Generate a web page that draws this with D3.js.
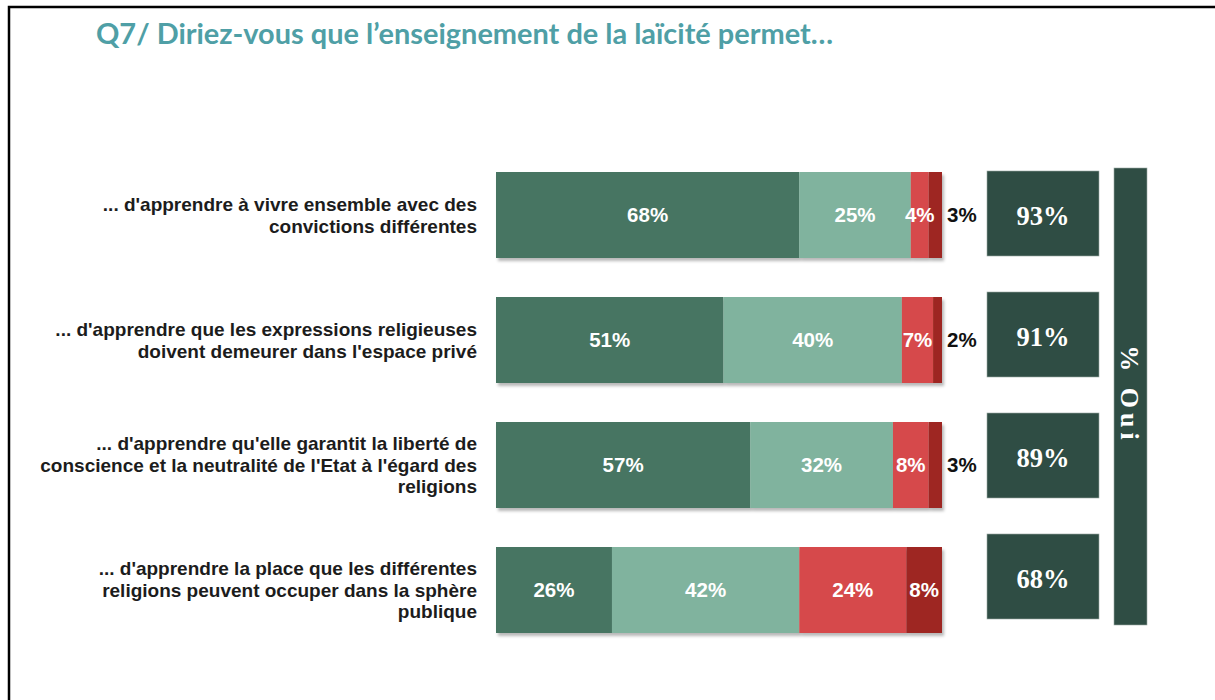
<!DOCTYPE html>
<html>
<head>
<meta charset="utf-8">
<script src="https://cdn.jsdelivr.net/npm/d3@7"></script>
<style>
  html, body { margin: 0; padding: 0; background: #ffffff; }
  svg { display: block; }
</style>
</head>
<body>
<svg id="chart" width="1215" height="700"></svg>
<script>
// ---------------- DATA ----------------
const titleText = "Q7/ Diriez-vous que l\u2019enseignement de la laïcité permet\u2026";
const categories = [
  ["... d'apprendre à vivre ensemble avec des", "convictions différentes"],
  ["... d'apprendre que les expressions religieuses", "doivent demeurer dans l'espace privé"],
  ["... d'apprendre qu'elle garantit la liberté de", "conscience et la neutralité de l'Etat à l'égard des", "religions"],
  ["... d'apprendre la place que les différentes", "religions peuvent occuper dans la sphère", "publique"]
];
const seriesKeys = ["ouiToutAFait", "ouiPlutot", "nonPlutotPas", "nonPasDuTout"];
const ouiToutAFait = [68, 51, 57, 26];
const ouiPlutot    = [25, 40, 32, 42];
const nonPlutotPas = [4, 7, 8, 24];
const nonPasDuTout = [3, 2, 3, 8];
const totalOui     = [93, 91, 89, 68];
const totalLabel   = "% Oui";

// ---------------- SETUP ----------------
const colors = {
  ouiToutAFait: "#467562",
  ouiPlutot: "#80b39e",
  nonPlutotPas: "#d6494c",
  nonPasDuTout: "#9e2621"
};
const boxColor = "#2f4d44";

const rows = categories.map((c, i) => ({
  idx: i,
  ouiToutAFait: ouiToutAFait[i],
  ouiPlutot: ouiPlutot[i],
  nonPlutotPas: nonPlutotPas[i],
  nonPasDuTout: nonPasDuTout[i]
}));

const svg = d3.select("#chart");

const defs = svg.append("defs");
const f = defs.append("filter").attr("id", "shadow")
  .attr("x", "-5%").attr("y", "-10%").attr("width", "115%").attr("height", "130%");
f.append("feDropShadow").attr("dx", 2).attr("dy", 3).attr("stdDeviation", 1.8)
  .attr("flood-color", "#000").attr("flood-opacity", 0.28);

// frame
svg.append("rect").attr("x", 9).attr("y", 7).attr("width", 1400).attr("height", 900)
  .attr("fill", "none").attr("stroke", "#000").attr("stroke-width", 2.5);

// title
svg.append("text")
  .attr("x", 96).attr("y", 44)
  .attr("font-family", "Lato, 'Open Sans', sans-serif")
  .attr("font-weight", 700)
  .attr("font-size", 28)
  .attr("fill", "#4f9fa6")
  .attr("textLength", 737)
  .attr("lengthAdjust", "spacingAndGlyphs")
  .text(titleText);

// scales
const x = d3.scaleLinear().domain([0, 100]).range([496, 942]);
const y = d3.scaleBand().domain(d3.range(categories.length)).range([172, 633])
  .paddingInner(0.312).paddingOuter(0);
const yBox = d3.scaleBand().domain(d3.range(categories.length)).range([171, 619])
  .paddingInner(0.2975).paddingOuter(0);

const stack = d3.stack().keys(seriesKeys);
const stacked = stack(rows);

// bars
const barGroup = svg.append("g").attr("filter", "url(#shadow)");
stacked.forEach(layer => {
  barGroup.selectAll(null).data(layer).enter().append("rect")
    .attr("x", d => x(d[0]))
    .attr("y", d => y(d.data.idx))
    .attr("width", d => x(d[1]) - x(d[0]))
    .attr("height", y.bandwidth())
    .attr("fill", colors[layer.key]);
});

// value labels
const lblFont = "'Liberation Sans', Arial, Helvetica, sans-serif";
stacked.forEach(layer => {
  svg.selectAll(null).data(layer).enter().append("text")
    .attr("x", d => {
      const v = d[1] - d[0];
      return v <= 3 ? x(d[1]) + 5 : (x(d[0]) + x(d[1])) / 2;
    })
    .attr("y", d => y(d.data.idx) + y.bandwidth() / 2)
    .attr("dy", "0.36em")
    .attr("text-anchor", d => (d[1] - d[0]) <= 3 ? "start" : "middle")
    .attr("font-family", lblFont)
    .attr("font-weight", 700)
    .attr("font-size", 20.5)
    .attr("fill", d => (d[1] - d[0]) <= 3 ? "#111" : "#ffffff")
    .text(d => (d[1] - d[0]) + "%");
});

// category labels
const lineH = 21.5;
categories.forEach((lines, i) => {
  const cy = y(i) + y.bandwidth() / 2;
  const t = svg.append("text")
    .attr("text-anchor", "end")
    .attr("font-family", lblFont)
    .attr("font-weight", 700)
    .attr("font-size", 19)
    .attr("fill", "#1c1c1c");
  lines.forEach((ln, k) => {
    t.append("tspan")
      .attr("x", 477)
      .attr("y", cy + (k - (lines.length - 1) / 2) * lineH)
      .attr("dy", "0.36em")
      .text(ln);
  });
});

// total boxes
const serif = "'Liberation Serif', 'DejaVu Serif', Georgia, serif";
svg.selectAll(null).data(totalOui).enter().append("rect")
  .attr("x", 987).attr("width", 112)
  .attr("y", (d, i) => yBox(i))
  .attr("height", yBox.bandwidth())
  .attr("fill", boxColor)
  .attr("stroke", "#9aa8a3").attr("stroke-width", 0.6);
svg.selectAll(null).data(totalOui).enter().append("text")
  .attr("x", 1043)
  .attr("y", (d, i) => yBox(i) + yBox.bandwidth() / 2 + 2)
  .attr("dy", "0.35em")
  .attr("text-anchor", "middle")
  .attr("font-family", serif)
  .attr("font-weight", 700)
  .attr("font-size", 26.5)
  .attr("fill", "#ffffff")
  .text(d => d + "%");

// tall side bar
svg.append("rect").attr("x", 1114).attr("y", 168).attr("width", 33).attr("height", 457)
  .attr("fill", boxColor).attr("stroke", "#9aa8a3").attr("stroke-width", 0.6);
svg.append("text")
  .attr("transform", `translate(${1130.5},${395}) rotate(90)`)
  .attr("text-anchor", "middle")
  .attr("dy", "0.35em")
  .attr("font-family", serif)
  .attr("font-weight", 700)
  .attr("font-size", 26)
  .attr("letter-spacing", 5)
  .attr("fill", "#ffffff")
  .text(totalLabel);
</script>
</body>
</html>
